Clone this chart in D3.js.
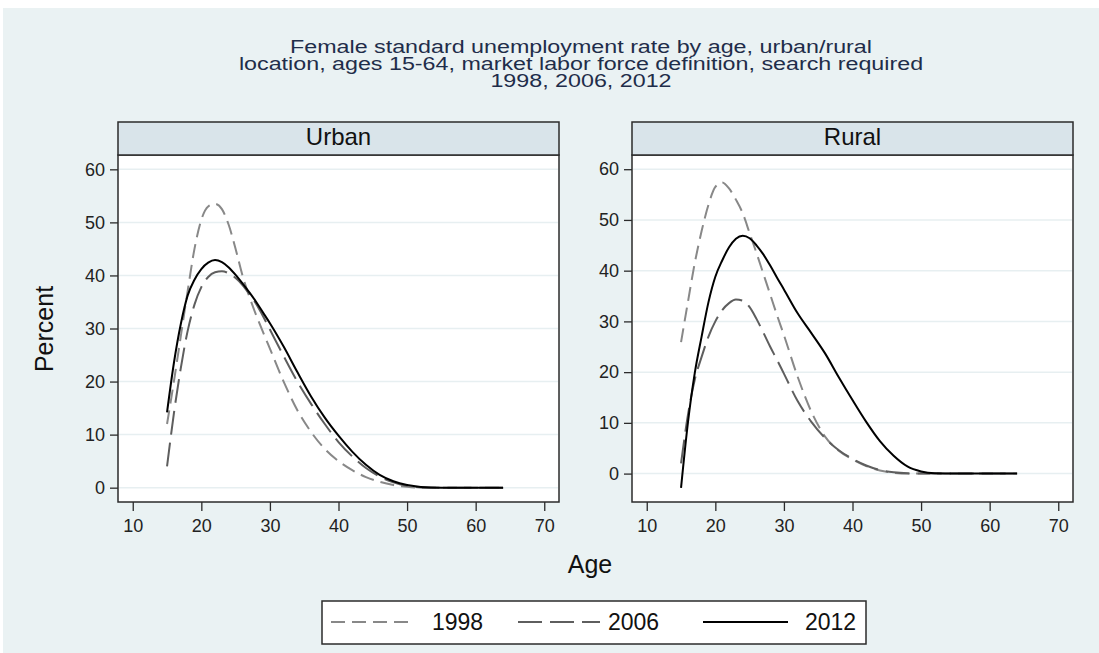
<!DOCTYPE html>
<html>
<head>
<meta charset="utf-8">
<script src="https://cdn.jsdelivr.net/npm/d3@7"></script>
<style>
  html, body { margin: 0; padding: 0; background: #ffffff; }
  svg { display: block; font-family: "Liberation Sans", Arial, sans-serif; }
</style>
</head>
<body>
<svg id="chart" width="1099" height="653"></svg>
<script>
// ---------------- DATA ----------------
const titleLines = [
  "Female standard unemployment rate by age, urban/rural",
  "location, ages 15-64, market labor force definition, search required",
  "1998, 2006, 2012"
];
const panelNames = ["Urban", "Rural"];
const seriesNames = ["1998", "2006", "2012"];
const xTicks = [10, 20, 30, 40, 50, 60, 70];
const yTicks = [0, 10, 20, 30, 40, 50, 60];
const xTitle = "Age";
const yTitle = "Percent";

const ages = [15,16,17,18,19,20,21,22,23,24,25,26,27,28,29,30,32,34,36,38,40,42,44,46,48,50,52,55,58,61,64];

const urban1998 = [12,20,28.5,37,45,50.5,53,53.5,52.5,49.5,45,40,36,32.5,29.3,26.2,20,14.6,10.5,7.3,5,3.3,2,1.1,0.5,0.15,0,0,0,0,0];
const urban2006 = [4,14,22.5,29.5,34.5,37.8,39.7,40.6,40.8,40.4,39.5,38.2,36.5,34.6,32.3,29.8,24.8,20,15.8,12,8.6,5.9,3.7,2.1,1,0.35,0.05,0,0,0,0];
const urban2012 = [14.2,23.5,30.8,36.2,39.2,41.2,42.4,42.9,42.5,41.5,40.1,38.5,36.8,35,33,31,26.6,21.8,17.2,13.2,9.8,6.8,4.3,2.4,1.2,0.5,0.15,0,0,0,0];

const rural1998 = [25.9,33.8,41.5,47.8,53,56.5,57.4,56.2,54,51.3,47.4,43.5,39.4,35.3,31.2,27.3,19.1,12.2,7.3,4.5,2.8,1.5,0.6,0.15,0,0,0,0,0,0,0];
const rural2006 = [2,11.5,18.5,23,27,30,32.2,33.6,34.3,34.1,32.8,30.5,27.8,25,22.4,19.7,14.3,10.2,7,4.6,2.9,1.6,0.7,0.25,0.05,0,0,0,0,0,0];
const rural2012 = [-2.8,10,19.8,27,33.8,38.8,42,44.6,46.3,46.9,46.4,45,43.2,41,38.6,36.3,31.6,27.7,23.7,19,14.5,10.2,6.4,3.5,1.4,0.4,0.05,0,0,0,0];

const xDomain = [7.85, 72.15];
const yDomainUrban = [-2.7, 62.7];
const yDomainRural = [-5.6, 62.8];

// ---------------- STYLE / LAYOUT ----------------
const W = 1099, H = 653;
const bg = "#eaf2f3";
const stripFill = "#d9e4ea";
const frameColor = "#2b2b2b";
const gridColor = "#e7eff1";
const seriesStyle = [
  { color: "#888888", dash: "14,7", width: 2 },
  { color: "#5e5e5e", dash: "24,8", width: 2 },
  { color: "#000000", dash: null, width: 2 }
];

const panels = [
  { name: panelNames[0], left: 118, right: 559, yDomain: yDomainUrban,
    data: [urban1998, urban2006, urban2012] },
  { name: panelNames[1], left: 632, right: 1073, yDomain: yDomainRural,
    data: [rural1998, rural2006, rural2012] }
];
const stripTop = 122, plotTop = 155, plotBottom = 502;

const svg = d3.select("#chart");

// background
svg.append("rect").attr("x", 0).attr("y", 0).attr("width", W).attr("height", H).attr("fill", "#ffffff");
svg.append("rect").attr("x", 3).attr("y", 8).attr("width", W - 3).attr("height", H - 8).attr("fill", bg);

// title (Stata renders it horizontally wide)
const titleG = svg.append("g").attr("transform", "translate(581,0) scale(1.258,1)")
  .attr("fill", "#1f2d4a").attr("font-size", 18.5).attr("text-anchor", "middle");
titleLines.forEach((t, i) => {
  titleG.append("text").attr("x", 0).attr("y", 53 + i * 17).text(t);
});

panels.forEach(p => {
  const x = d3.scaleLinear().domain(xDomain).range([p.left, p.right]);
  const y = d3.scaleLinear().domain(p.yDomain).range([plotBottom, plotTop]);
  const g = svg.append("g");

  // plot region
  g.append("rect").attr("x", p.left).attr("y", plotTop)
    .attr("width", p.right - p.left).attr("height", plotBottom - plotTop)
    .attr("fill", "#ffffff");

  // gridlines
  g.append("g").selectAll("line").data(yTicks).join("line")
    .attr("x1", p.left + 1).attr("x2", p.right - 1)
    .attr("y1", d => y(d)).attr("y2", d => y(d))
    .attr("stroke", gridColor).attr("stroke-width", 1.5);

  // lines
  const clipId = "clip-" + p.name;
  svg.append("clipPath").attr("id", clipId).append("rect")
    .attr("x", p.left).attr("y", plotTop).attr("width", p.right - p.left).attr("height", plotBottom - plotTop);
  const lineGen = d3.line().x((d, i) => x(ages[i])).y(d => y(d)).curve(d3.curveMonotoneX);
  [0, 1, 2].forEach(si => {
    const st = seriesStyle[si];
    g.append("path").datum(p.data[si])
      .attr("clip-path", `url(#${clipId})`)
      .attr("d", lineGen)
      .attr("fill", "none")
      .attr("stroke", st.color)
      .attr("stroke-width", st.width)
      .attr("stroke-dasharray", st.dash)
      .attr("stroke-linejoin", "round");
  });

  // frame
  g.append("rect").attr("x", p.left).attr("y", plotTop)
    .attr("width", p.right - p.left).attr("height", plotBottom - plotTop)
    .attr("fill", "none").attr("stroke", frameColor).attr("stroke-width", 1.5);

  // strip header
  g.append("rect").attr("x", p.left).attr("y", stripTop)
    .attr("width", p.right - p.left).attr("height", plotTop - stripTop)
    .attr("fill", stripFill).attr("stroke", frameColor).attr("stroke-width", 1.5);
  g.append("text").attr("x", (p.left + p.right) / 2).attr("y", 145)
    .attr("text-anchor", "middle").attr("font-size", 24).attr("fill", "#111")
    .text(p.name);

  // y axis
  const yAxis = g.append("g").attr("transform", `translate(${p.left},0)`)
    .call(d3.axisLeft(y).tickValues(yTicks).tickSize(8).tickPadding(5));
  yAxis.select(".domain").remove();
  yAxis.selectAll(".tick line").attr("stroke", frameColor).attr("stroke-width", 1.3);
  yAxis.selectAll(".tick text").attr("font-size", 18).attr("fill", "#222")
    .attr("font-family", "Liberation Sans, Arial, sans-serif");

  // x axis
  const xAxis = g.append("g").attr("transform", `translate(0,${plotBottom})`)
    .call(d3.axisBottom(x).tickValues(xTicks).tickSize(9).tickPadding(8));
  xAxis.select(".domain").remove();
  xAxis.selectAll(".tick line").attr("stroke", frameColor).attr("stroke-width", 1.3);
  xAxis.selectAll(".tick text").attr("font-size", 18).attr("fill", "#222")
    .attr("font-family", "Liberation Sans, Arial, sans-serif");
});

// axis titles
svg.append("text").attr("transform", "translate(53,329) rotate(-90)")
  .attr("text-anchor", "middle").attr("font-size", 25).attr("fill", "#111").text(yTitle);
svg.append("text").attr("x", 590).attr("y", 573)
  .attr("text-anchor", "middle").attr("font-size", 25).attr("fill", "#111").text(xTitle);

// legend
const lg = svg.append("g");
lg.append("rect").attr("x", 322).attr("y", 601).attr("width", 544).attr("height", 43)
  .attr("fill", "#ffffff").attr("stroke", frameColor).attr("stroke-width", 1.5);
const legendItems = [
  { x1: 331, x2: 415, tx: 432 },
  { x1: 518, x2: 600, tx: 608 },
  { x1: 703, x2: 788, tx: 805 }
];
seriesNames.forEach((s, i) => {
  const st = seriesStyle[i], it = legendItems[i];
  lg.append("line").attr("x1", it.x1).attr("x2", it.x2).attr("y1", 622).attr("y2", 622)
    .attr("stroke", st.color).attr("stroke-width", st.width).attr("stroke-dasharray", st.dash);
  lg.append("text").attr("x", it.tx).attr("y", 630).attr("font-size", 23).attr("fill", "#111").text(s);
});
</script>
</body>
</html>
